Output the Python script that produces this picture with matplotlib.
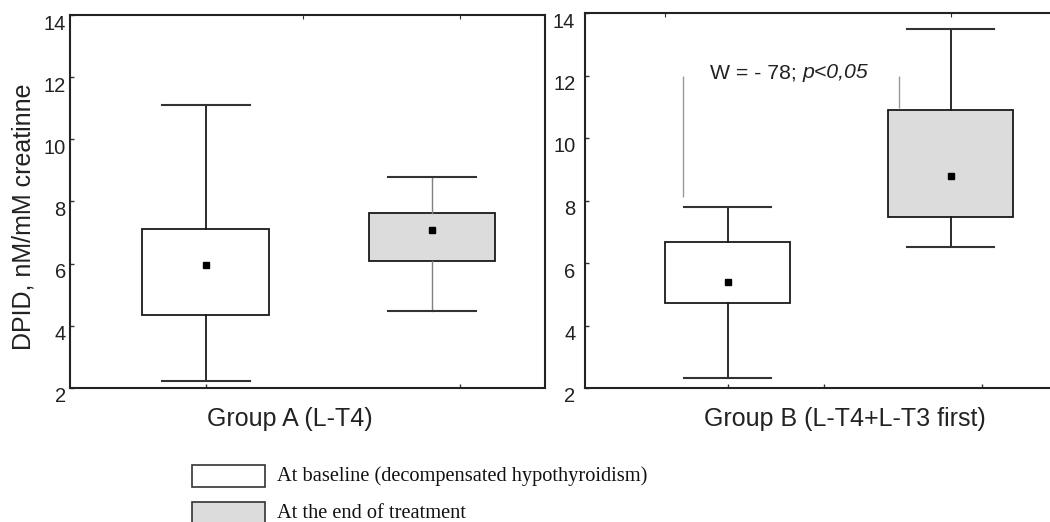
import matplotlib
matplotlib.use("Agg")
import matplotlib.pyplot as plt
from matplotlib.patches import Rectangle
from matplotlib.transforms import ScaledTranslation

# box statistics (DPID, nM/mM creatinine)
groups = ["Group A (L-T4)", "Group B (L-T4+L-T3 first)"]
series = ["At baseline (decompensated hypothyroidism)", "At the end of treatment"]
means = [[5.96, 7.09], [5.39, 8.78]]
box_low = [[4.35, 6.07], [4.72, 7.47]]
box_high = [[7.12, 7.63], [6.67, 10.90]]
whisk_low = [[2.23, 4.49], [2.32, 6.51]]
whisk_high = [[11.10, 8.79], [7.79, 13.49]]
y_ticks = [2, 4, 6, 8, 10, 12, 14]
test_text = "W = - 78; "
test_p = "p<0,05"
bracket_x = [0.80, 1.77]
bracket_top = [12.0, 12.0]
bracket_bottom = [8.1, 10.95]

fills = ["white", "#dcdcdc"]
whisk_colors = [["#1a1a1a", "#808080"], ["#1a1a1a", "#1a1a1a"]]

W, H = 1050, 522
fig = plt.figure(figsize=(W / 100, H / 100), dpi=100)
plt.rcParams["font.family"] = ["Liberation Sans", "DejaVu Sans"]

ax1 = fig.add_axes([70 / W, 134 / H, 475 / W, 373 / H])
ax2 = fig.add_axes([585 / W, 134 / H, 465 / W, 375 / H])
axes = [ax1, ax2]
xlims = [(0.40, 2.50), (0.36, 2.445)]
bottom_ticks = [[1.0, 2.126], [1.0, 1.43, 2.14]]
top_ticks = [[1.43, 2.126], [0.72, 2.0]]
label_x = [0.463, 0.559]

for g, ax in enumerate(axes):
    for s in range(2):
        stats = [{"med": means[g][s], "mean": means[g][s],
                  "q1": box_low[g][s], "q3": box_high[g][s],
                  "whislo": whisk_low[g][s], "whishi": whisk_high[g][s],
                  "fliers": []}]
        wc = whisk_colors[g][s]
        ax.bxp(stats, positions=[s + 1], widths=0.56, patch_artist=True,
               showmeans=True, showfliers=False,
               boxprops=dict(facecolor=fills[s], edgecolor="#1a1a1a", linewidth=1.3),
               whiskerprops=dict(color=wc, linewidth=1.3 if wc == "#1a1a1a" else 1.0),
               capprops=dict(color="#333333", linewidth=1.5),
               capwidths=0.39,
               medianprops=dict(linewidth=0),
               meanprops=dict(marker="s", markersize=4.5, markerfacecolor="black",
                              markeredgecolor="black"))
    ax.set_xlim(*xlims[g])
    ax.set_ylim(2, 14)
    ax.set_yticks(y_ticks)
    ax.set_xticks(bottom_ticks[g])
    ax.set_xticklabels([])
    ax.tick_params(axis="both", direction="in", length=3, width=1, color="#333333",
                   labelsize=14.5, labelcolor="#222222", pad=3 if g == 0 else 7)
    top = ax.secondary_xaxis("top")
    top.set_xticks(top_ticks[g])
    top.set_xticklabels([])
    top.tick_params(direction="in", length=3, color="#333333")
    top.spines["top"].set_visible(False)
    for sp in ax.spines.values():
        sp.set_linewidth(1.5)
        sp.set_color("#222222")
    for lab in ax.get_yticklabels():
        lab.set_transform(lab.get_transform() + ScaledTranslation(0, -0.07, fig.dpi_scale_trans))
    ax.text(label_x[g], -0.05, groups[g], transform=ax.transAxes,
            ha="center", va="top", fontsize=18, color="#222222")

ax2.spines["right"].set_visible(False)
ax1.set_ylabel("DPID, nM/mM creatinne", fontsize=18, color="#222222")
ax1.yaxis.set_label_coords(-34 / 475, 0.46)

# Wilcoxon annotation in group B
ax2.vlines(bracket_x, bracket_bottom, bracket_top, color="#999999", linewidth=1)
t1 = ax2.text(0.92, 12.08, test_text, ha="left", va="center", fontsize=15.3, color="#222222")
ax2.annotate(test_p, xy=(1, 0), xycoords=t1, ha="left", va="bottom",
             fontsize=15.3, style="italic", color="#222222")

# legend drawn in figure pixels
row_y = [476, 513]
for s in range(2):
    fig.patches.append(Rectangle((192 / W, 1 - (row_y[s] + 11) / H), 73 / W, 22 / H,
                                 transform=fig.transFigure, facecolor=fills[s],
                                 edgecolor="#333333", linewidth=1.2))
    fig.text(277 / W, 1 - row_y[s] / H, series[s], ha="left", va="center",
             fontsize=14.7, family=["Liberation Serif", "DejaVu Serif"], color="#111111")

fig.savefig("out.png", dpi=100)
